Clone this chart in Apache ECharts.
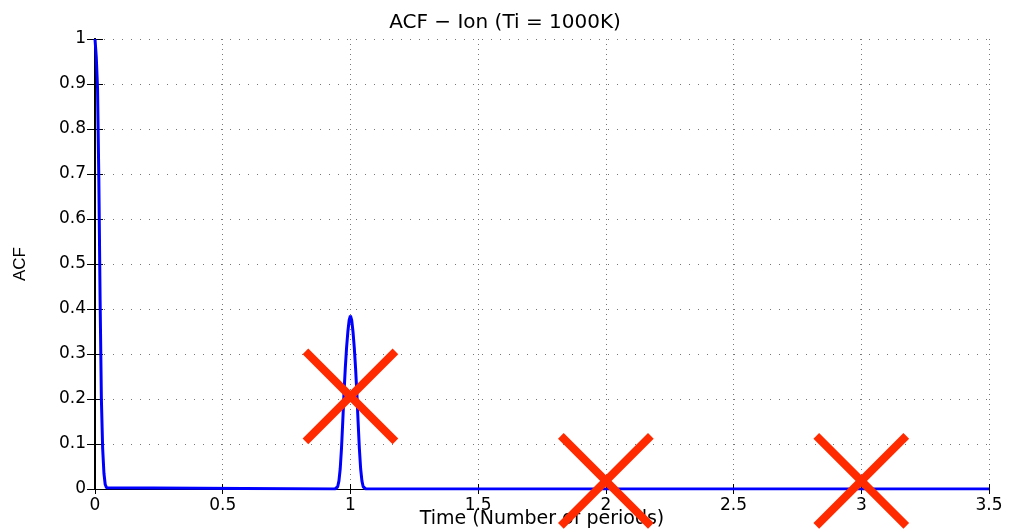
<!DOCTYPE html>
<html>
<head>
<meta charset="utf-8">
<title>ACF - Ion (Ti = 1000K)</title>
<script src="https://cdn.jsdelivr.net/npm/echarts@6/dist/echarts.min.js"></script>
<style>
  html, body { margin: 0; padding: 0; background: #ffffff; }
  #chart { width: 1010px; height: 531px; }
</style>
</head>
<body>
<div id="chart"></div>
<script>
// Autocorrelation of the ion signal, time in units of the period
const timePoints = [
  0, 0.005, 0.01, 0.015, 0.02, 0.025, 0.03, 0.035, 0.04, 0.045, 0.05,
  0.94, 0.95, 0.955, 0.96, 0.965, 0.97, 0.975, 0.98, 0.985, 0.99, 0.995,
  1.0,
  1.005, 1.01, 1.015, 1.02, 1.025, 1.03, 1.035, 1.04, 1.045, 1.05, 1.06,
  3.5
];
const acfValues = [
  1, 0.96, 0.89, 0.69, 0.42, 0.2, 0.09, 0.035, 0.01, 0.003, 0,
  0, 0.005, 0.018, 0.045, 0.09, 0.15, 0.215, 0.27, 0.315, 0.35, 0.375,
  0.385,
  0.375, 0.35, 0.315, 0.27, 0.215, 0.15, 0.09, 0.045, 0.018, 0.005, 0,
  0
];

// Positions struck out with a red cross
const crossTimes = [1, 2, 3];
const crossValues = [0.206, 0.018, 0.018];

// Tick values
const xTicks = [0, 0.5, 1, 1.5, 2, 2.5, 3, 3.5];
const yTicks = [0, 0.1, 0.2, 0.3, 0.4, 0.5, 0.6, 0.7, 0.8, 0.9, 1];

const linePoints = timePoints.map((t, i) => [t, acfValues[i]]);
const crossPoints = crossTimes.map((t, i) => [t, crossValues[i]]);

const labelFont = { fontFamily: 'DejaVu Sans', fontSize: 17, color: '#000' };
const frameLine = { show: true, lineStyle: { color: '#000', width: 1 } };

const chart = echarts.init(document.getElementById('chart'), null, { renderer: 'canvas' });

chart.setOption({
  animation: false,
  backgroundColor: '#ffffff',
  title: {
    text: 'ACF \u2212 Ion (Ti = 1000K)',
    left: 'center',
    top: 8,
    textStyle: { fontFamily: 'DejaVu Sans', fontSize: 20, fontWeight: 'normal', color: '#000' }
  },
  grid: {
    left: 95, right: 21, top: 39, bottom: 42,
    containLabel: false,
    outerBoundsMode: 'none'
  },
  xAxis: [
    {
      type: 'value',
      position: 'bottom',
      min: xTicks[0],
      max: xTicks[xTicks.length - 1],
      interval: xTicks[1] - xTicks[0],
      name: 'Time (Number of periods)',
      nameLocation: 'middle',
      nameGap: 21,
      nameMoveOverlap: false,
      nameTextStyle: { fontFamily: 'DejaVu Sans', fontSize: 19, color: '#000' },
      axisLine: frameLine,
      axisTick: { show: true, inside: true, length: 5, lineStyle: { color: '#000' } },
      axisLabel: Object.assign({ margin: 8 }, labelFont),
      splitLine: { show: true, lineStyle: { color: '#777', width: 1, type: [1, 4] } }
    },
    {
      type: 'value',
      position: 'top',
      min: xTicks[0],
      max: xTicks[xTicks.length - 1],
      interval: xTicks[1] - xTicks[0],
      axisLine: frameLine,
      axisTick: { show: true, inside: true, length: 5, lineStyle: { color: '#000' } },
      axisLabel: { show: false },
      splitLine: { show: false }
    }
  ],
  yAxis: [
    {
      type: 'value',
      position: 'left',
      min: yTicks[0],
      max: yTicks[yTicks.length - 1],
      interval: 0.1,
      name: 'ACF',
      nameLocation: 'middle',
      nameGap: 66,
      nameMoveOverlap: false,
      nameTextStyle: { fontFamily: 'Liberation Sans', fontSize: 17, color: '#000' },
      axisLine: { show: true, lineStyle: { color: '#000', width: 2 } },
      axisTick: { show: true, inside: true, length: 8, lineStyle: { color: '#000' } },
      axisLabel: Object.assign({ margin: 9 }, labelFont),
      splitLine: { show: true, lineStyle: { color: '#777', width: 1, type: [1, 8] } }
    },
    {
      type: 'value',
      position: 'right',
      min: yTicks[0],
      max: yTicks[yTicks.length - 1],
      interval: 0.1,
      axisLine: { show: true, lineStyle: { color: '#000', width: 2 } },
      axisTick: { show: true, inside: true, length: 8, lineStyle: { color: '#000' } },
      axisLabel: { show: false },
      splitLine: { show: false }
    }
  ],
  series: [
    {
      name: 'ACF',
      type: 'line',
      xAxisIndex: 0,
      yAxisIndex: 0,
      data: linePoints,
      showSymbol: false,
      symbol: 'none',
      smooth: false,
      clip: true,
      lineStyle: { color: '#0000ff', width: 3 },
      z: 3
    },
    {
      name: 'Struck out',
      type: 'custom',
      xAxisIndex: 0,
      yAxisIndex: 0,
      data: crossPoints,
      clip: false,
      z: 5,
      renderItem: function (params, api) {
        const c = api.coord([api.value(0), api.value(1)]);
        const h = 45;
        const style = { stroke: '#ff2a00', lineWidth: 8, fill: null };
        return {
          type: 'group',
          children: [
            { type: 'line', shape: { x1: c[0] - h, y1: c[1] - h, x2: c[0] + h, y2: c[1] + h }, style: style },
            { type: 'line', shape: { x1: c[0] + h, y1: c[1] - h, x2: c[0] - h, y2: c[1] + h }, style: style }
          ]
        };
      }
    }
  ]
});
</script>
</body>
</html>
